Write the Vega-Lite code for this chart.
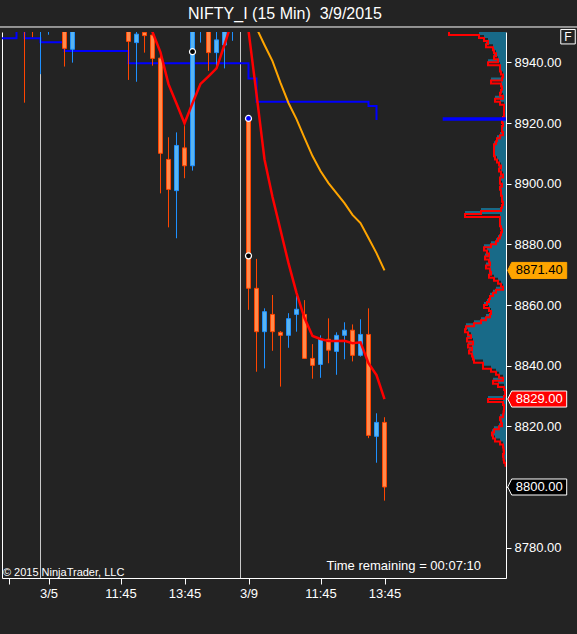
{
  "$schema": "https://vega.github.io/schema/vega-lite/v6.json",
  "width": 504,
  "height": 546,
  "autosize": {"type": "none"},
  "padding": {"left": 2, "top": 32, "right": 71, "bottom": 56},
  "background": "#232323",
  "config": {"view": {"stroke": null}, "font": "Liberation Sans", "axis": {"grid": false}},
  "datasets": {
    "candles": [
      {"i": -3, "t": "3/4 15:00", "open": 8957, "high": 8959, "low": 8926.7, "close": 8952},
      {"i": -2, "t": "3/4 15:15", "open": 8956, "high": 8958, "low": 8948.3, "close": 8953},
      {"i": -1, "t": "3/4 15:30", "open": 8953, "high": 8960, "low": 8936.1, "close": 8958},
      {"i": 0, "t": "3/5 9:30", "open": 8954, "high": 8963, "low": 8949.1, "close": 8960},
      {"i": 2, "t": "3/5 10:00", "open": 8955, "high": 8957, "low": 8938.6, "close": 8944.6},
      {"i": 3, "t": "3/5 10:15", "open": 8944.3, "high": 8958, "low": 8939.9, "close": 8956},
      {"i": 10, "t": "3/5 12:00", "open": 8955, "high": 8957, "low": 8934.2, "close": 8946.9},
      {"i": 11, "t": "3/5 12:15", "open": 8946.5, "high": 8953, "low": 8933.6, "close": 8949.3},
      {"i": 12, "t": "3/5 12:30", "open": 8949.9, "high": 8952, "low": 8943.2, "close": 8948.8},
      {"i": 13, "t": "3/5 12:45", "open": 8949.0, "high": 8951, "low": 8938.9, "close": 8941.3},
      {"i": 14, "t": "3/5 13:00", "open": 8941.4, "high": 8942.5, "low": 8896.8, "close": 8910.0},
      {"i": 15, "t": "3/5 13:15", "open": 8908.0, "high": 8915.3, "low": 8885.6, "close": 8898.1},
      {"i": 16, "t": "3/5 13:30", "open": 8897.7, "high": 8916.9, "low": 8882.0, "close": 8912.6},
      {"i": 17, "t": "3/5 13:45", "open": 8911.8, "high": 8919.3, "low": 8901.8, "close": 8905.9},
      {"i": 18, "t": "3/5 14:00", "open": 8905.9, "high": 8955, "low": 8904.3, "close": 8953},
      {"i": 19, "t": "3/5 14:15", "open": 8952, "high": 8958, "low": 8946.5, "close": 8956},
      {"i": 20, "t": "3/5 14:30", "open": 8956, "high": 8958, "low": 8937.2, "close": 8943.2},
      {"i": 21, "t": "3/5 14:45", "open": 8943.2, "high": 8952, "low": 8938.0, "close": 8947.4},
      {"i": 22, "t": "3/5 15:00", "open": 8945.7, "high": 8955, "low": 8938.0, "close": 8953},
      {"i": 23, "t": "3/5 15:15", "open": 8953, "high": 8958, "low": 8947.1, "close": 8956},
      {"i": 25, "t": "3/9 9:30", "open": 8921.5, "high": 8921.5, "low": 8858.4, "close": 8865.5},
      {"i": 26, "t": "3/9 9:45", "open": 8865.5, "high": 8875.2, "low": 8838.0, "close": 8851.2},
      {"i": 27, "t": "3/9 10:00", "open": 8851.2, "high": 8858.9, "low": 8839.1, "close": 8857.8},
      {"i": 28, "t": "3/9 10:15", "open": 8856.9, "high": 8863.3, "low": 8844.9, "close": 8851.2},
      {"i": 29, "t": "3/9 10:30", "open": 8851.0, "high": 8851.4, "low": 8833.1, "close": 8850.0},
      {"i": 30, "t": "3/9 10:45", "open": 8850.0, "high": 8857.3, "low": 8845.9, "close": 8855.5},
      {"i": 31, "t": "3/9 11:00", "open": 8856.9, "high": 8863.0, "low": 8851.2, "close": 8858.6},
      {"i": 32, "t": "3/9 11:15", "open": 8856.9, "high": 8861.6, "low": 8842.4, "close": 8842.4},
      {"i": 33, "t": "3/9 11:30", "open": 8842.4, "high": 8847.1, "low": 8835.7, "close": 8840.1},
      {"i": 34, "t": "3/9 11:45", "open": 8840.4, "high": 8850.0, "low": 8836.0, "close": 8848.7},
      {"i": 35, "t": "3/9 12:00", "open": 8848.7, "high": 8855.6, "low": 8840.8, "close": 8845.1},
      {"i": 36, "t": "3/9 12:15", "open": 8844.7, "high": 8851.0, "low": 8837.0, "close": 8850.0},
      {"i": 37, "t": "3/9 12:30", "open": 8850.0, "high": 8854.3, "low": 8842.1, "close": 8851.7},
      {"i": 38, "t": "3/9 12:45", "open": 8851.7, "high": 8853.6, "low": 8841.4, "close": 8843.4},
      {"i": 39, "t": "3/9 13:00", "open": 8843.4, "high": 8855.3, "low": 8843.0, "close": 8850.3},
      {"i": 40, "t": "3/9 13:15", "open": 8850.3, "high": 8858.9, "low": 8816.1, "close": 8817.0},
      {"i": 41, "t": "3/9 13:30", "open": 8816.7, "high": 8824.3, "low": 8808.0, "close": 8821.3},
      {"i": 42, "t": "3/9 13:45", "open": 8821.3, "high": 8823.0, "low": 8795.5, "close": 8800.0}
    ],
    "ema": [
      {"i": 12, "v": 8960}, {"i": 13, "v": 8950}, {"i": 14, "v": 8943.3}, {"i": 15, "v": 8932.8},
      {"i": 16, "v": 8926.4}, {"i": 17, "v": 8919.9}, {"i": 18, "v": 8926.5}, {"i": 19, "v": 8932.9},
      {"i": 20, "v": 8935.4}, {"i": 21, "v": 8938.0}, {"i": 22, "v": 8945.8}, {"i": 23, "v": 8954},
      {"i": 24, "v": 8960}, {"i": 25, "v": 8950.5}, {"i": 26, "v": 8929.5}, {"i": 27, "v": 8908.0},
      {"i": 28, "v": 8895.6}, {"i": 29, "v": 8884.7}, {"i": 30, "v": 8873.8}, {"i": 31, "v": 8864.0},
      {"i": 32, "v": 8855.7}, {"i": 33, "v": 8849.8}, {"i": 34, "v": 8848.8}, {"i": 35, "v": 8848.1},
      {"i": 36, "v": 8848.1}, {"i": 37, "v": 8848.2}, {"i": 38, "v": 8847.4}, {"i": 39, "v": 8847.7},
      {"i": 40, "v": 8840.8}, {"i": 41, "v": 8836.9}, {"i": 42, "v": 8829.0}
    ],
    "sma": [
      {"i": 25, "v": 8956.9}, {"i": 26, "v": 8951.3}, {"i": 27, "v": 8945.7}, {"i": 28, "v": 8940.4},
      {"i": 29, "v": 8933.2}, {"i": 30, "v": 8926.6}, {"i": 31, "v": 8921.3}, {"i": 32, "v": 8915.1},
      {"i": 33, "v": 8909.1}, {"i": 34, "v": 8904.2}, {"i": 35, "v": 8900.2}, {"i": 36, "v": 8896.9},
      {"i": 37, "v": 8893.6}, {"i": 38, "v": 8889.7}, {"i": 39, "v": 8887.0}, {"i": 40, "v": 8882.1},
      {"i": 41, "v": 8877.1}, {"i": 42, "v": 8871.4}
    ],
    "dpoc": [
      {"i": -6, "v": 8947.9}, {"i": -4, "v": 8952.5}, {"i": -3, "v": 8947.9}, {"i": -1, "v": 8946.6},
      {"i": 2, "v": 8943.7}, {"i": 10, "v": 8939.7}, {"i": 25, "v": 8934.7}, {"i": 26, "v": 8927.0},
      {"i": 40, "v": 8925.6}, {"i": 41, "v": 8921.0}
    ],
    "breaks": [{"i": -1, "session": "3/5"}, {"i": 24, "session": "3/9"}],
    "markers": [
      {"i": 18, "price": 8943.5, "kind": "swing"},
      {"i": 25, "price": 8921.5, "kind": "gap"},
      {"i": 25, "price": 8876.2, "kind": "swing"}
    ],
    "tags": [
      {"price": 8871.4, "label": "8871.40", "series": "SMA"},
      {"price": 8829.0, "label": "8829.00", "series": "EMA"},
      {"price": 8800.0, "label": "8800.00", "series": "Last"}
    ],
    "poc": [{"price": 8921.3, "vol": 63.3}],
    "profile": [
      {"price": 8807, "vol": 0}, {"price": 8808, "vol": 0.5}, {"price": 8809, "vol": 2}, {"price": 8810, "vol": 2.5},
      {"price": 8811, "vol": 3}, {"price": 8812, "vol": 2}, {"price": 8813, "vol": 2.5}, {"price": 8814, "vol": 3},
      {"price": 8815, "vol": 6}, {"price": 8816, "vol": 11}, {"price": 8817, "vol": 13}, {"price": 8818, "vol": 14},
      {"price": 8819, "vol": 12}, {"price": 8820, "vol": 7}, {"price": 8821, "vol": 4}, {"price": 8822, "vol": 5},
      {"price": 8823, "vol": 6}, {"price": 8824, "vol": 3}, {"price": 8825, "vol": 2.5}, {"price": 8826, "vol": 2},
      {"price": 8827, "vol": 2}, {"price": 8828, "vol": 3}, {"price": 8829, "vol": 18}, {"price": 8830, "vol": 2},
      {"price": 8831, "vol": 0.5}, {"price": 8832, "vol": 1}, {"price": 8833, "vol": 2}, {"price": 8834, "vol": 8},
      {"price": 8835, "vol": 13}, {"price": 8836, "vol": 3}, {"price": 8837, "vol": 7}, {"price": 8838, "vol": 10},
      {"price": 8839, "vol": 15}, {"price": 8840, "vol": 23}, {"price": 8841, "vol": 23}, {"price": 8842, "vol": 32},
      {"price": 8843, "vol": 33}, {"price": 8844, "vol": 34}, {"price": 8845, "vol": 37}, {"price": 8846, "vol": 34},
      {"price": 8847, "vol": 38}, {"price": 8848, "vol": 33}, {"price": 8849, "vol": 39}, {"price": 8850, "vol": 35},
      {"price": 8851, "vol": 38}, {"price": 8852, "vol": 41}, {"price": 8853, "vol": 40}, {"price": 8854, "vol": 32},
      {"price": 8855, "vol": 25}, {"price": 8856, "vol": 20}, {"price": 8857, "vol": 16}, {"price": 8858, "vol": 15},
      {"price": 8859, "vol": 17}, {"price": 8860, "vol": 22}, {"price": 8861, "vol": 19}, {"price": 8862, "vol": 17},
      {"price": 8863, "vol": 16}, {"price": 8864, "vol": 13}, {"price": 8865, "vol": 10}, {"price": 8866, "vol": 3},
      {"price": 8867, "vol": 5}, {"price": 8868, "vol": 8}, {"price": 8869, "vol": 12}, {"price": 8870, "vol": 17},
      {"price": 8871, "vol": 15}, {"price": 8872, "vol": 16}, {"price": 8873, "vol": 20}, {"price": 8874, "vol": 16},
      {"price": 8875, "vol": 17}, {"price": 8876, "vol": 21}, {"price": 8877, "vol": 17}, {"price": 8878, "vol": 19},
      {"price": 8879, "vol": 22}, {"price": 8880, "vol": 15}, {"price": 8881, "vol": 10}, {"price": 8882, "vol": 8},
      {"price": 8883, "vol": 6}, {"price": 8884, "vol": 5}, {"price": 8885, "vol": 4}, {"price": 8886, "vol": 5},
      {"price": 8887, "vol": 6}, {"price": 8888, "vol": 6}, {"price": 8889, "vol": 6}, {"price": 8890, "vol": 41},
      {"price": 8891, "vol": 25}, {"price": 8892, "vol": 5}, {"price": 8893, "vol": 4}, {"price": 8894, "vol": 3},
      {"price": 8895, "vol": 4}, {"price": 8896, "vol": 4}, {"price": 8897, "vol": 5}, {"price": 8898, "vol": 5},
      {"price": 8899, "vol": 6}, {"price": 8900, "vol": 4}, {"price": 8901, "vol": 6}, {"price": 8902, "vol": 6},
      {"price": 8903, "vol": 3}, {"price": 8904, "vol": 5}, {"price": 8905, "vol": 7}, {"price": 8906, "vol": 5},
      {"price": 8907, "vol": 7}, {"price": 8908, "vol": 9}, {"price": 8909, "vol": 11}, {"price": 8910, "vol": 12},
      {"price": 8911, "vol": 12}, {"price": 8912, "vol": 12}, {"price": 8913, "vol": 12}, {"price": 8914, "vol": 10},
      {"price": 8915, "vol": 9}, {"price": 8916, "vol": 6}, {"price": 8917, "vol": 3}, {"price": 8918, "vol": 4},
      {"price": 8919, "vol": 4}, {"price": 8920, "vol": 3}, {"price": 8921, "vol": 4}, {"price": 8922, "vol": 3},
      {"price": 8923, "vol": 2}, {"price": 8924, "vol": 2}, {"price": 8925, "vol": 2}, {"price": 8926, "vol": 2},
      {"price": 8927, "vol": 6}, {"price": 8928, "vol": 11}, {"price": 8929, "vol": 3}, {"price": 8930, "vol": 6},
      {"price": 8931, "vol": 5}, {"price": 8932, "vol": 4}, {"price": 8933, "vol": 5}, {"price": 8934, "vol": 15},
      {"price": 8935, "vol": 4}, {"price": 8936, "vol": 3}, {"price": 8937, "vol": 5}, {"price": 8938, "vol": 6},
      {"price": 8939, "vol": 6}, {"price": 8940, "vol": 18}, {"price": 8941, "vol": 8}, {"price": 8942, "vol": 12},
      {"price": 8943, "vol": 10}, {"price": 8944, "vol": 12}, {"price": 8945, "vol": 13}, {"price": 8946, "vol": 20},
      {"price": 8947, "vol": 18}, {"price": 8948, "vol": 22}, {"price": 8949, "vol": 27}, {"price": 8950, "vol": 57}
    ]
  },
  "layer": [
    {
      "layer": [
        {
          "data": {"name": "breaks"},
          "mark": {"type": "rule", "color": "#c8c8c8", "strokeWidth": 1, "clip": true},
          "encoding": {
            "x": {"field": "i", "type": "quantitative", "title": null, "scale": {"domain": [-5.8125, 57.1875], "nice": false, "zero": false, "padding": 0},
              "axis": {"orient": "bottom", "values": [-5, 0, 9, 17, 25, 34, 42], "labelExpr": "datum.value == 0 ? '3/5' : datum.value == 9 ? '11:45' : datum.value == 17 ? '13:45' : datum.value == 25 ? '3/9' : datum.value == 34 ? '11:45' : datum.value == 42 ? '13:45' : ''", "domainColor": "#ffffff", "tickColor": "#ffffff", "tickSize": 6, "labelColor": "#ffffff", "labelFontSize": 13, "labelFont": "Liberation Sans", "labelPadding": 3, "grid": false, "labelFlush": false, "labelOverlap": false, "title": null}}
          }
        },
        {
          "data": {"name": "dpoc"},
          "mark": {"type": "line", "interpolate": "step-after", "color": "#0000ff", "strokeWidth": 2, "clip": true},
          "encoding": {
            "x": {"field": "i", "type": "quantitative", "title": null, "scale": {"domain": [-5.8125, 57.1875], "nice": false, "zero": false, "padding": 0}},
            "y": {"field": "v", "type": "quantitative", "title": null, "scale": {"domain": [8770, 8950], "nice": false, "zero": false},
              "axis": {"orient": "right", "values": [8780, 8790, 8800, 8810, 8820, 8830, 8840, 8850, 8860, 8870, 8880, 8890, 8900, 8910, 8920, 8930, 8940], "format": ".2f", "domainColor": "#ffffff", "tickColor": "#ffffff", "tickSize": 5, "labelColor": "#ffffff", "labelFontSize": 13, "labelFont": "Liberation Sans", "labelPadding": 3, "grid": false, "labelFlush": false, "labelOverlap": false, "title": null}}
          }
        },
        {
          "data": {"name": "candles"},
          "mark": {"type": "rule", "strokeWidth": 1, "clip": true},
          "encoding": {
            "x": {"field": "i", "type": "quantitative", "title": null, "scale": {"domain": [-5.8125, 57.1875], "nice": false, "zero": false, "padding": 0}},
            "y": {"field": "low", "type": "quantitative", "title": null, "scale": {"domain": [8770, 8950], "nice": false, "zero": false}},
            "y2": {"field": "high"},
            "stroke": {"condition": {"test": "datum.close >= datum.open", "value": "#1e90ff"}, "value": "#ff4500"}
          }
        },
        {
          "data": {"name": "candles"},
          "mark": {"type": "bar", "width": 4, "strokeWidth": 1, "clip": true},
          "encoding": {
            "x": {"field": "i", "type": "quantitative", "title": null, "scale": {"domain": [-5.8125, 57.1875], "nice": false, "zero": false, "padding": 0}},
            "y": {"field": "open", "type": "quantitative", "title": null, "scale": {"domain": [8770, 8950], "nice": false, "zero": false}},
            "y2": {"field": "close"},
            "fill": {"condition": {"test": "datum.close >= datum.open", "value": "#5ab4f0"}, "value": "#ff8a4c"},
            "stroke": {"condition": {"test": "datum.close >= datum.open", "value": "#1e90ff"}, "value": "#ff4500"}
          }
        },
        {
          "data": {"name": "sma"},
          "mark": {"type": "line", "color": "#ffa500", "strokeWidth": 2, "clip": true},
          "encoding": {
            "x": {"field": "i", "type": "quantitative", "title": null, "scale": {"domain": [-5.8125, 57.1875], "nice": false, "zero": false, "padding": 0}},
            "y": {"field": "v", "type": "quantitative", "title": null, "scale": {"domain": [8770, 8950], "nice": false, "zero": false}}
          }
        },
        {
          "data": {"name": "ema"},
          "mark": {"type": "line", "color": "#ff0000", "strokeWidth": 2.5, "clip": true},
          "encoding": {
            "x": {"field": "i", "type": "quantitative", "title": null, "scale": {"domain": [-5.8125, 57.1875], "nice": false, "zero": false, "padding": 0}},
            "y": {"field": "v", "type": "quantitative", "title": null, "scale": {"domain": [8770, 8950], "nice": false, "zero": false}}
          }
        },
        {
          "data": {"name": "markers"},
          "mark": {"type": "point", "shape": "circle", "filled": true, "size": 36, "stroke": "#ffffff", "strokeWidth": 1.2, "strokeOpacity": 1, "opacity": 1, "clip": true},
          "encoding": {
            "x": {"field": "i", "type": "quantitative", "title": null, "scale": {"domain": [-5.8125, 57.1875], "nice": false, "zero": false, "padding": 0}},
            "y": {"field": "price", "type": "quantitative", "title": null, "scale": {"domain": [8770, 8950], "nice": false, "zero": false}},
            "fill": {"condition": {"test": "datum.kind == 'gap'", "value": "#0000ff"}, "value": "#000000"}
          }
        },
        {
          "data": {"name": "tags"},
          "mark": {"type": "point", "shape": "M0.057,0L0.19,-0.267L2.023,-0.267L2.023,0.267L0.19,0.267Z", "size": 3600, "filled": true, "strokeWidth": 1, "opacity": 1, "strokeOpacity": 1, "clip": false},
          "encoding": {
            "x": {"datum": 57.1875, "type": "quantitative", "scale": {"domain": [-5.8125, 57.1875], "nice": false, "zero": false, "padding": 0}},
            "y": {"field": "price", "type": "quantitative", "title": null, "scale": {"domain": [8770, 8950], "nice": false, "zero": false}},
            "fill": {"condition": [{"test": "datum.series == 'SMA'", "value": "#ffa500"}, {"test": "datum.series == 'EMA'", "value": "#ff0000"}], "value": "#000000"},
            "stroke": {"condition": {"test": "datum.series == 'SMA'", "value": "#ffa500"}, "value": "#ffffff"}
          }
        },
        {
          "data": {"name": "tags"},
          "mark": {"type": "text", "dx": 33.2, "align": "center", "baseline": "middle", "fontSize": 13, "font": "Liberation Sans", "clip": false},
          "encoding": {
            "x": {"datum": 57.1875, "type": "quantitative", "scale": {"domain": [-5.8125, 57.1875], "nice": false, "zero": false, "padding": 0}},
            "y": {"field": "price", "type": "quantitative", "title": null, "scale": {"domain": [8770, 8950], "nice": false, "zero": false}},
            "text": {"field": "label"},
            "color": {"condition": {"test": "datum.series == 'SMA'", "value": "#000000"}, "value": "#ffffff"}
          }
        },
        {
          "data": {"values": [{}]},
          "mark": {"type": "text", "text": "NIFTY_I (15 Min) \u00a03/9/2015", "align": "center", "baseline": "alphabetic", "fontSize": 16, "color": "#ffffff", "font": "Liberation Sans", "clip": false},
          "encoding": {
            "x": {"datum": 29.56, "type": "quantitative", "scale": {"domain": [-5.8125, 57.1875], "nice": false, "zero": false, "padding": 0}},
            "y": {"datum": 8954.29, "type": "quantitative", "scale": {"domain": [8770, 8950], "nice": false, "zero": false}}
          }
        },
        {
          "data": {"values": [{}]},
          "mark": {"type": "text", "text": "© 2015 NinjaTrader, LLC", "align": "left", "baseline": "alphabetic", "fontSize": 11, "color": "#ffffff", "font": "Liberation Sans", "clip": false},
          "encoding": {
            "x": {"datum": -5.7, "type": "quantitative", "scale": {"domain": [-5.8125, 57.1875], "nice": false, "zero": false, "padding": 0}},
            "y": {"datum": 8770.66, "type": "quantitative", "scale": {"domain": [8770, 8950], "nice": false, "zero": false}}
          }
        },
        {
          "data": {"values": [{}]},
          "mark": {"type": "text", "text": "Time remaining = 00:07:10", "align": "right", "baseline": "alphabetic", "fontSize": 13, "color": "#ffffff", "font": "Liberation Sans", "clip": false},
          "encoding": {
            "x": {"datum": 54.06, "type": "quantitative", "scale": {"domain": [-5.8125, 57.1875], "nice": false, "zero": false, "padding": 0}},
            "y": {"datum": 8772.63, "type": "quantitative", "scale": {"domain": [8770, 8950], "nice": false, "zero": false}}
          }
        },
        {
          "data": {"values": [{}]},
          "mark": {"type": "rule", "color": "#ffffff", "strokeWidth": 1, "clip": false},
          "encoding": {
            "x": {"datum": -6.4, "type": "quantitative", "scale": {"domain": [-5.8125, 57.1875], "nice": false, "zero": false, "padding": 0}},
            "x2": {"datum": 66.5},
            "y": {"datum": 8951.65, "type": "quantitative", "scale": {"domain": [8770, 8950], "nice": false, "zero": false}}
          }
        },
        {
          "data": {"values": [{}]},
          "mark": {"type": "point", "shape": "square", "size": 210, "filled": false, "stroke": "#ffffff", "strokeWidth": 1, "opacity": 1, "clip": false},
          "encoding": {
            "x": {"datum": 64.94, "type": "quantitative", "scale": {"domain": [-5.8125, 57.1875], "nice": false, "zero": false, "padding": 0}},
            "y": {"datum": 8948.45, "type": "quantitative", "scale": {"domain": [8770, 8950], "nice": false, "zero": false}}
          }
        },
        {
          "data": {"values": [{}]},
          "mark": {"type": "text", "text": "F", "align": "center", "baseline": "middle", "fontSize": 12, "color": "#ffffff", "font": "Liberation Sans", "clip": false},
          "encoding": {
            "x": {"datum": 64.94, "type": "quantitative", "scale": {"domain": [-5.8125, 57.1875], "nice": false, "zero": false, "padding": 0}},
            "y": {"datum": 8948.45, "type": "quantitative", "scale": {"domain": [8770, 8950], "nice": false, "zero": false}}
          }
        }
      ]
    },
    {
      "layer": [
        {
          "data": {"name": "profile"},
          "mark": {"type": "area", "orient": "horizontal", "interpolate": "step-after", "color": "#186a88", "opacity": 1, "clip": true},
          "encoding": {
            "x": {"field": "vol", "type": "quantitative", "title": null, "scale": {"domain": [0, 504], "reverse": true, "nice": false, "zero": false, "padding": 0}, "axis": null},
            "x2": {"datum": 0},
            "y": {"field": "price", "type": "quantitative", "title": null, "scale": {"domain": [8770, 8950], "nice": false, "zero": false},
              "axis": {"orient": "left", "labels": false, "ticks": false, "domainColor": "#ffffff", "grid": false, "title": null}}
          }
        },
        {
          "data": {"name": "profile"},
          "mark": {"type": "line", "interpolate": "step-after", "color": "#ff0000", "strokeWidth": 2, "clip": true},
          "encoding": {
            "x": {"field": "vol", "type": "quantitative", "title": null, "scale": {"domain": [0, 504], "reverse": true, "nice": false, "zero": false, "padding": 0}, "axis": null},
            "y": {"field": "price", "type": "quantitative", "title": null, "scale": {"domain": [8770, 8950], "nice": false, "zero": false}},
            "order": {"field": "price", "type": "quantitative"}
          }
        },
        {
          "data": {"name": "poc"},
          "mark": {"type": "rule", "color": "#0000ff", "strokeWidth": 3.5, "clip": true},
          "encoding": {
            "x": {"field": "vol", "type": "quantitative", "title": null, "scale": {"domain": [0, 504], "reverse": true, "nice": false, "zero": false, "padding": 0}, "axis": null},
            "x2": {"datum": 0},
            "y": {"field": "price", "type": "quantitative", "title": null, "scale": {"domain": [8770, 8950], "nice": false, "zero": false}}
          }
        }
      ]
    }
  ],
  "resolve": {"scale": {"x": "independent"}, "axis": {"y": "independent"}}
}
